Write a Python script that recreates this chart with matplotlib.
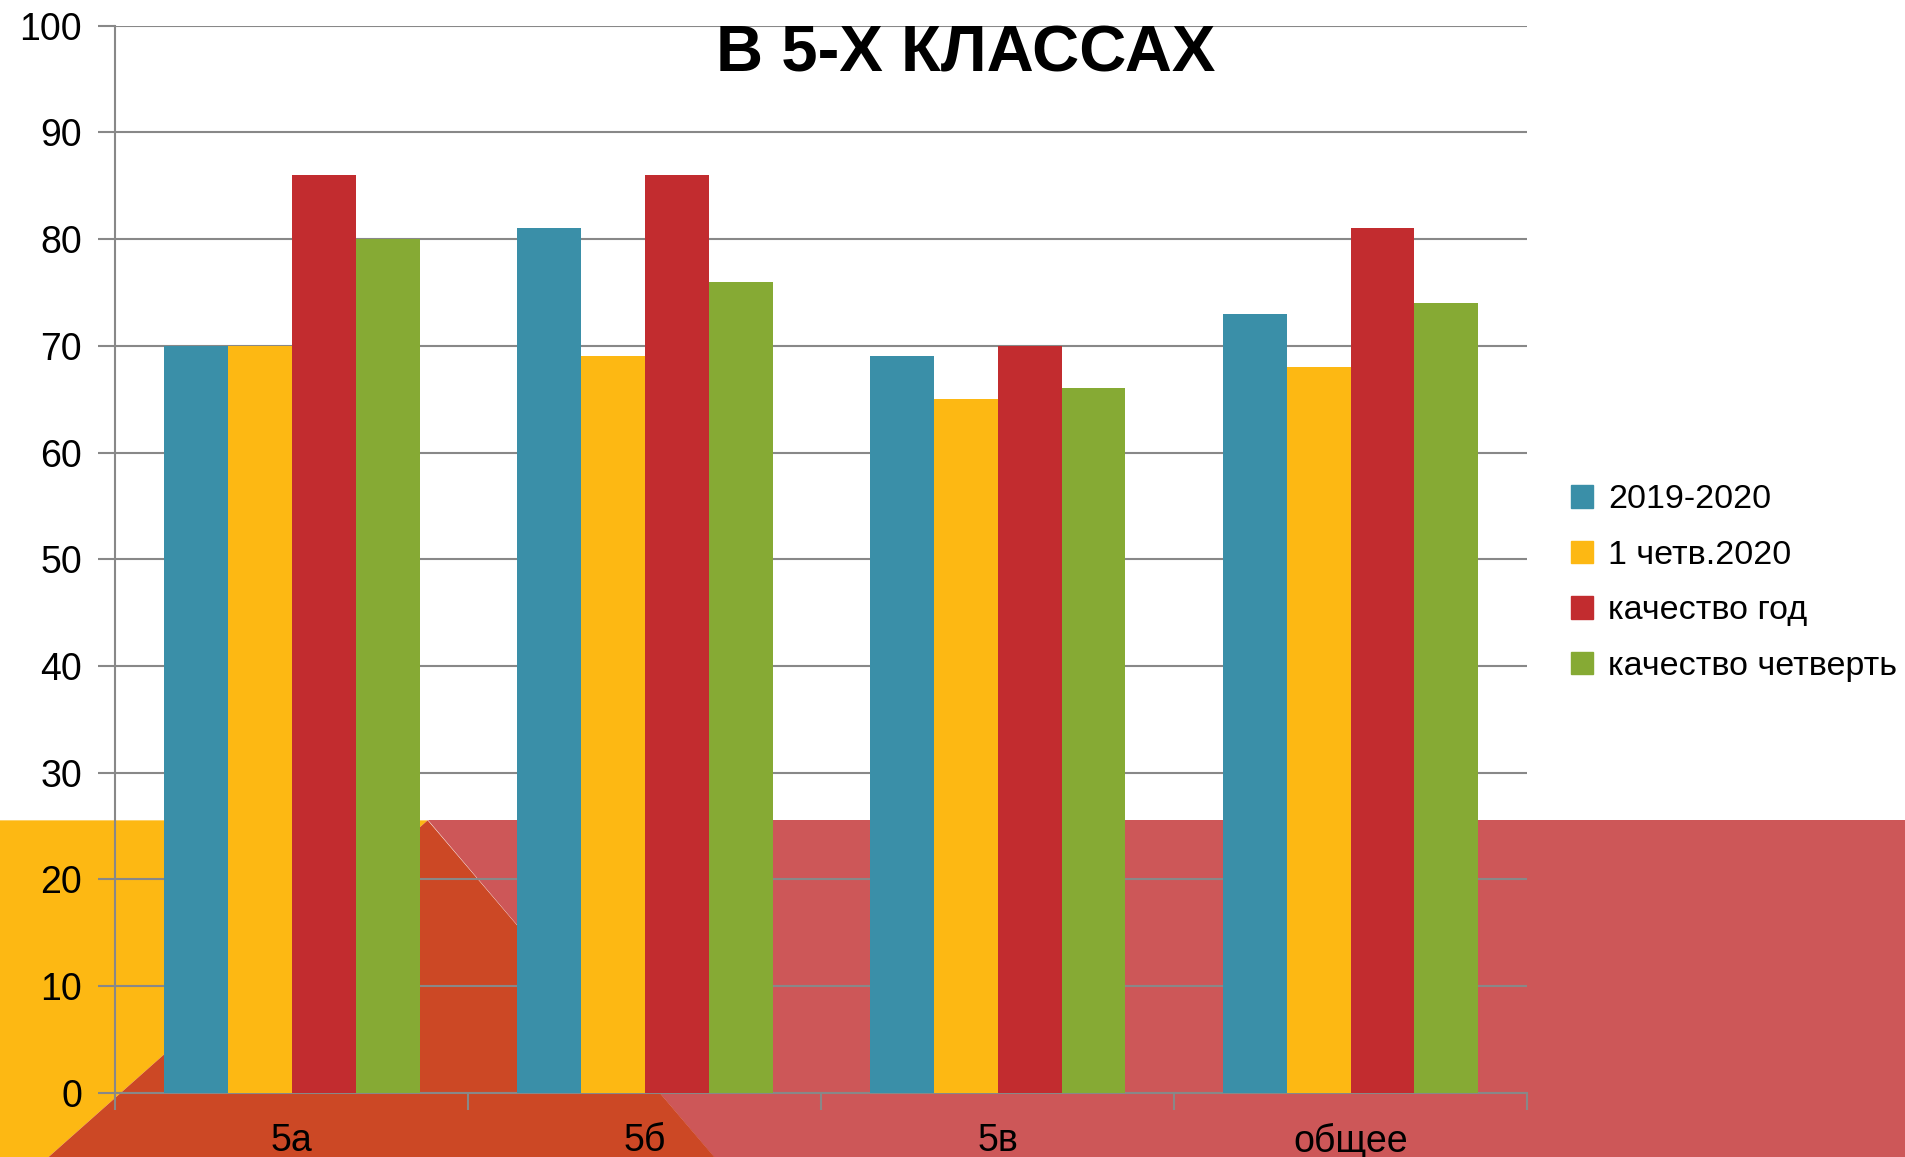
import matplotlib.pyplot as plt
from matplotlib.patches import Polygon, Patch
import numpy as np

plt.rcParams['font.family'] = ['Liberation Sans', 'DejaVu Sans']

categories = ["5а", "5б", "5в", "общее"]
series_names = ["2019-2020", "1 четв.2020", "качество год", "качество четверть"]
s2019 = [70, 81, 69, 73]
s_q1 = [70, 69, 65, 68]
s_year = [86, 86, 70, 81]
s_quarter = [80, 76, 66, 74]
colors = ["#3A8FA8", "#FDB813", "#C22C2F", "#86AA34"]

fig = plt.figure(figsize=(19.05, 11.57), dpi=100)

# decorative background band (slide design)
bg = fig.add_axes([0, 0, 1, 1], zorder=-1)
bg.set_xlim(0, 1568)
bg.set_ylim(952, 0)
bg.axis("off")
bg.add_patch(Polygon([(0, 675), (352, 675), (40, 952), (0, 952)], closed=True, color="#FDB813", lw=0))
bg.add_patch(Polygon([(352, 675), (1568, 675), (1568, 952), (588, 952)], closed=True, color="#CD5758", lw=0))
bg.add_patch(Polygon([(352, 675), (40, 952), (588, 952)], closed=True, color="#CC4825", lw=0))

ax = fig.add_axes([0.0606, 0.0557, 0.741, 0.922])
ax.set_facecolor("none")

x = np.arange(len(categories))
w = 0.181
data = [s2019, s_q1, s_year, s_quarter]
for i, vals in enumerate(data):
    ax.bar(x + (i - 1.5) * w, vals, width=w, color=colors[i], label=series_names[i], zorder=3)

ax.set_xlim(-0.5, len(categories) - 0.5)
ax.set_ylim(0, 100)
ax.set_yticks(range(0, 101, 10))
ax.yaxis.grid(True, color="#888888", lw=1.5, zorder=0)
ax.set_axisbelow(True)
for s in ["top", "right"]:
    ax.spines[s].set_visible(False)
for s in ["left", "bottom"]:
    ax.spines[s].set_color("#888888")
    ax.spines[s].set_linewidth(1.5)

ax.set_xticks(np.arange(-0.5, len(categories), 1))
ax.set_xticklabels([])
ax.set_xticks(x, minor=True)
ax.set_xticklabels(categories, minor=True, fontsize=27)
ax.tick_params(axis="x", which="major", length=12, width=1.5, color="#888888")
ax.tick_params(axis="x", which="minor", length=0, pad=22)
ax.tick_params(axis="y", length=12, width=1.5, color="#888888", labelsize=27, pad=12)

fig.text(0.507, 0.953, "В 5-Х КЛАССАХ", ha="center", va="center", fontsize=47,
         fontweight="bold")

handles = [Patch(color=c) for c in colors]
ax.legend(handles, series_names, loc="center left", bbox_to_anchor=(0.8246, 0.496),
          bbox_transform=fig.transFigure, frameon=False, fontsize=24.5,
          handlelength=0.65, handleheight=0.65, handletextpad=0.45, labelspacing=0.72,
          borderaxespad=0, borderpad=0)

fig.savefig("out.png", dpi=100)
